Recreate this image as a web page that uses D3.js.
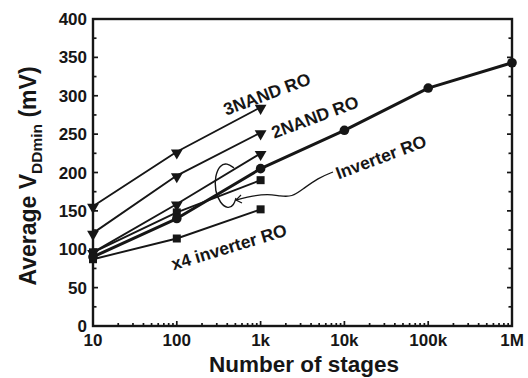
<!DOCTYPE html>
<html><head><meta charset="utf-8">
<script src="https://cdn.jsdelivr.net/npm/d3@7"></script>
<style>
html,body{margin:0;padding:0;background:#fff;}
svg{display:block;font-family:"Liberation Sans",Arial,sans-serif;}
</style></head>
<body>
<svg id="c" width="528" height="378"></svg>
<script>
// ---- data ----
const stages = [10, 100, 1000, 10000, 100000, 1000000];
const xTickLabels = ["10", "100", "1k", "10k", "100k", "1M"];
const yTicks = [0, 50, 100, 150, 200, 250, 300, 350, 400];
const nand3 = [156, 227, 285];
const nand2 = [121, 196, 252];
const invTri = [96, 159, 225];
const invRO = [90, 140, 205, 255, 310, 343];
const invSq = [96, 148, 190];
const x4inv = [87, 114, 152];

const series = [
  {name: "3NAND RO", values: nand3, marker: "tri", width: 1.9},
  {name: "2NAND RO", values: nand2, marker: "tri", width: 1.9},
  {name: "inv tri", values: invTri, marker: "tri", width: 1.9},
  {name: "inv sq", values: invSq, marker: "sq", width: 1.9},
  {name: "x4 inverter RO", values: x4inv, marker: "sq", width: 1.9},
  {name: "Inverter RO", values: invRO, marker: "circ", width: 3}
];

const svg = d3.select("#c");
const L = 93, R = 512, T = 19, B = 326;
const x = d3.scaleLog().domain([10, 1e6]).range([L, R]);
const y = d3.scaleLinear().domain([0, 400]).range([B, T]);
const ink = "#161616";

// frame
svg.append("rect").attr("x", L).attr("y", T).attr("width", R - L).attr("height", B - T)
  .attr("fill", "none").attr("stroke", ink).attr("stroke-width", 2.4);

// y ticks left & right (inward)
const yMinor = d3.range(25, 400, 50);
const g = svg.append("g").attr("stroke", ink).attr("stroke-width", 1.7);
yTicks.forEach(v => {
  g.append("line").attr("x1", L).attr("x2", L + 5).attr("y1", y(v)).attr("y2", y(v));
  g.append("line").attr("x1", R).attr("x2", R - 5).attr("y1", y(v)).attr("y2", y(v));
});
yMinor.forEach(v => {
  g.append("line").attr("x1", L).attr("x2", L + 3.5).attr("y1", y(v)).attr("y2", y(v));
  g.append("line").attr("x1", R).attr("x2", R - 3.5).attr("y1", y(v)).attr("y2", y(v));
});
// x ticks bottom (inward)
stages.forEach(v => {
  g.append("line").attr("x1", x(v)).attr("x2", x(v)).attr("y1", B).attr("y2", B - 5);
  if (v < 1e6) for (let k = 2; k <= 9; k++) {
    g.append("line").attr("x1", x(v * k)).attr("x2", x(v * k)).attr("y1", B).attr("y2", B - 3);
  }
});

// tick labels
svg.append("g").selectAll("text").data(yTicks).join("text")
  .attr("x", L - 6).attr("y", d => y(d)).attr("dy", "0.36em")
  .attr("text-anchor", "end").attr("font-size", 17).attr("font-weight", "bold")
  .attr("fill", ink).text(d => d);
svg.append("g").selectAll("text").data(stages).join("text")
  .attr("x", d => x(d)).attr("y", 346)
  .attr("text-anchor", "middle").attr("font-size", 17).attr("font-weight", "bold")
  .attr("fill", ink).text((d, i) => xTickLabels[i]);

// axis titles
svg.append("text").attr("x", 304).attr("y", 371.5).attr("text-anchor", "middle")
  .attr("font-size", 22.5).attr("font-weight", "bold").attr("fill", ink).text("Number of stages");
const yt = svg.append("text").attr("transform", "translate(36,176) rotate(-90)")
  .attr("text-anchor", "middle").attr("font-size", 23).attr("font-weight", "bold").attr("fill", ink);
yt.append("tspan").text("Average V");
yt.append("tspan").attr("font-size", 15.5).attr("dy", 6).text("DDmin");
yt.append("tspan").attr("dy", -6).text(" (mV)");

// lines
const line = d3.line().x((d, i) => x(stages[i])).y(d => y(d));
series.forEach(s => {
  svg.append("path").datum(s.values).attr("d", line).attr("fill", "none")
    .attr("stroke", ink).attr("stroke-width", s.width).attr("stroke-linejoin", "round");
});
// markers
const triSym = d3.symbol().type(d3.symbolTriangle).size(60);
series.forEach(s => {
  const mg = svg.append("g").attr("fill", ink);
  s.values.forEach((v, i) => {
    const cx = x(stages[i]), cy = y(v);
    if (s.marker === "tri") {
      mg.append("path").attr("d", triSym()).attr("transform", `translate(${cx},${cy + 1}) rotate(180)`);
    } else if (s.marker === "sq") {
      mg.append("rect").attr("x", cx - 4).attr("y", cy - 4).attr("width", 8).attr("height", 8);
    } else {
      mg.append("circle").attr("cx", cx).attr("cy", cy).attr("r", 4.8);
    }
  });
});

// annotations
function label(txt, cx, cy, rot) {
  svg.append("text").attr("transform", `translate(${cx},${cy}) rotate(${rot})`)
    .attr("text-anchor", "middle").attr("dy", "0.35em").attr("font-size", 17.5)
    .attr("font-weight", "bold").attr("fill", ink).text(txt);
}
label("3NAND RO", 267, 94, -20.5);
label("2NAND RO", 315, 117, -20.5);
label("Inverter RO", 381, 157, -20.5);
label("x4 inverter RO", 229, 247, -17);

// curl around inverter lines
const curl = d3.line().curve(d3.curveBasis);
svg.append("path").attr("d", curl([[234,168],[227,163],[220,165],[215,176],[215,191],[220,203],[228,209],[234,205],[236,198]]))
  .attr("fill", "none").attr("stroke", ink).attr("stroke-width", 1.4);
// leader to "Inverter RO"
svg.append("path").attr("d", curl([[333,172],[318,178],[303,189],[292,197],[280,196],[268,194],[252,196],[240,199],[236,200]]))
  .attr("fill", "none").attr("stroke", ink).attr("stroke-width", 1.3);
svg.append("path").attr("d", "M241,195 L236,200 L242,203").attr("fill", "none").attr("stroke", ink).attr("stroke-width", 1.2);
</script>
</body></html>
